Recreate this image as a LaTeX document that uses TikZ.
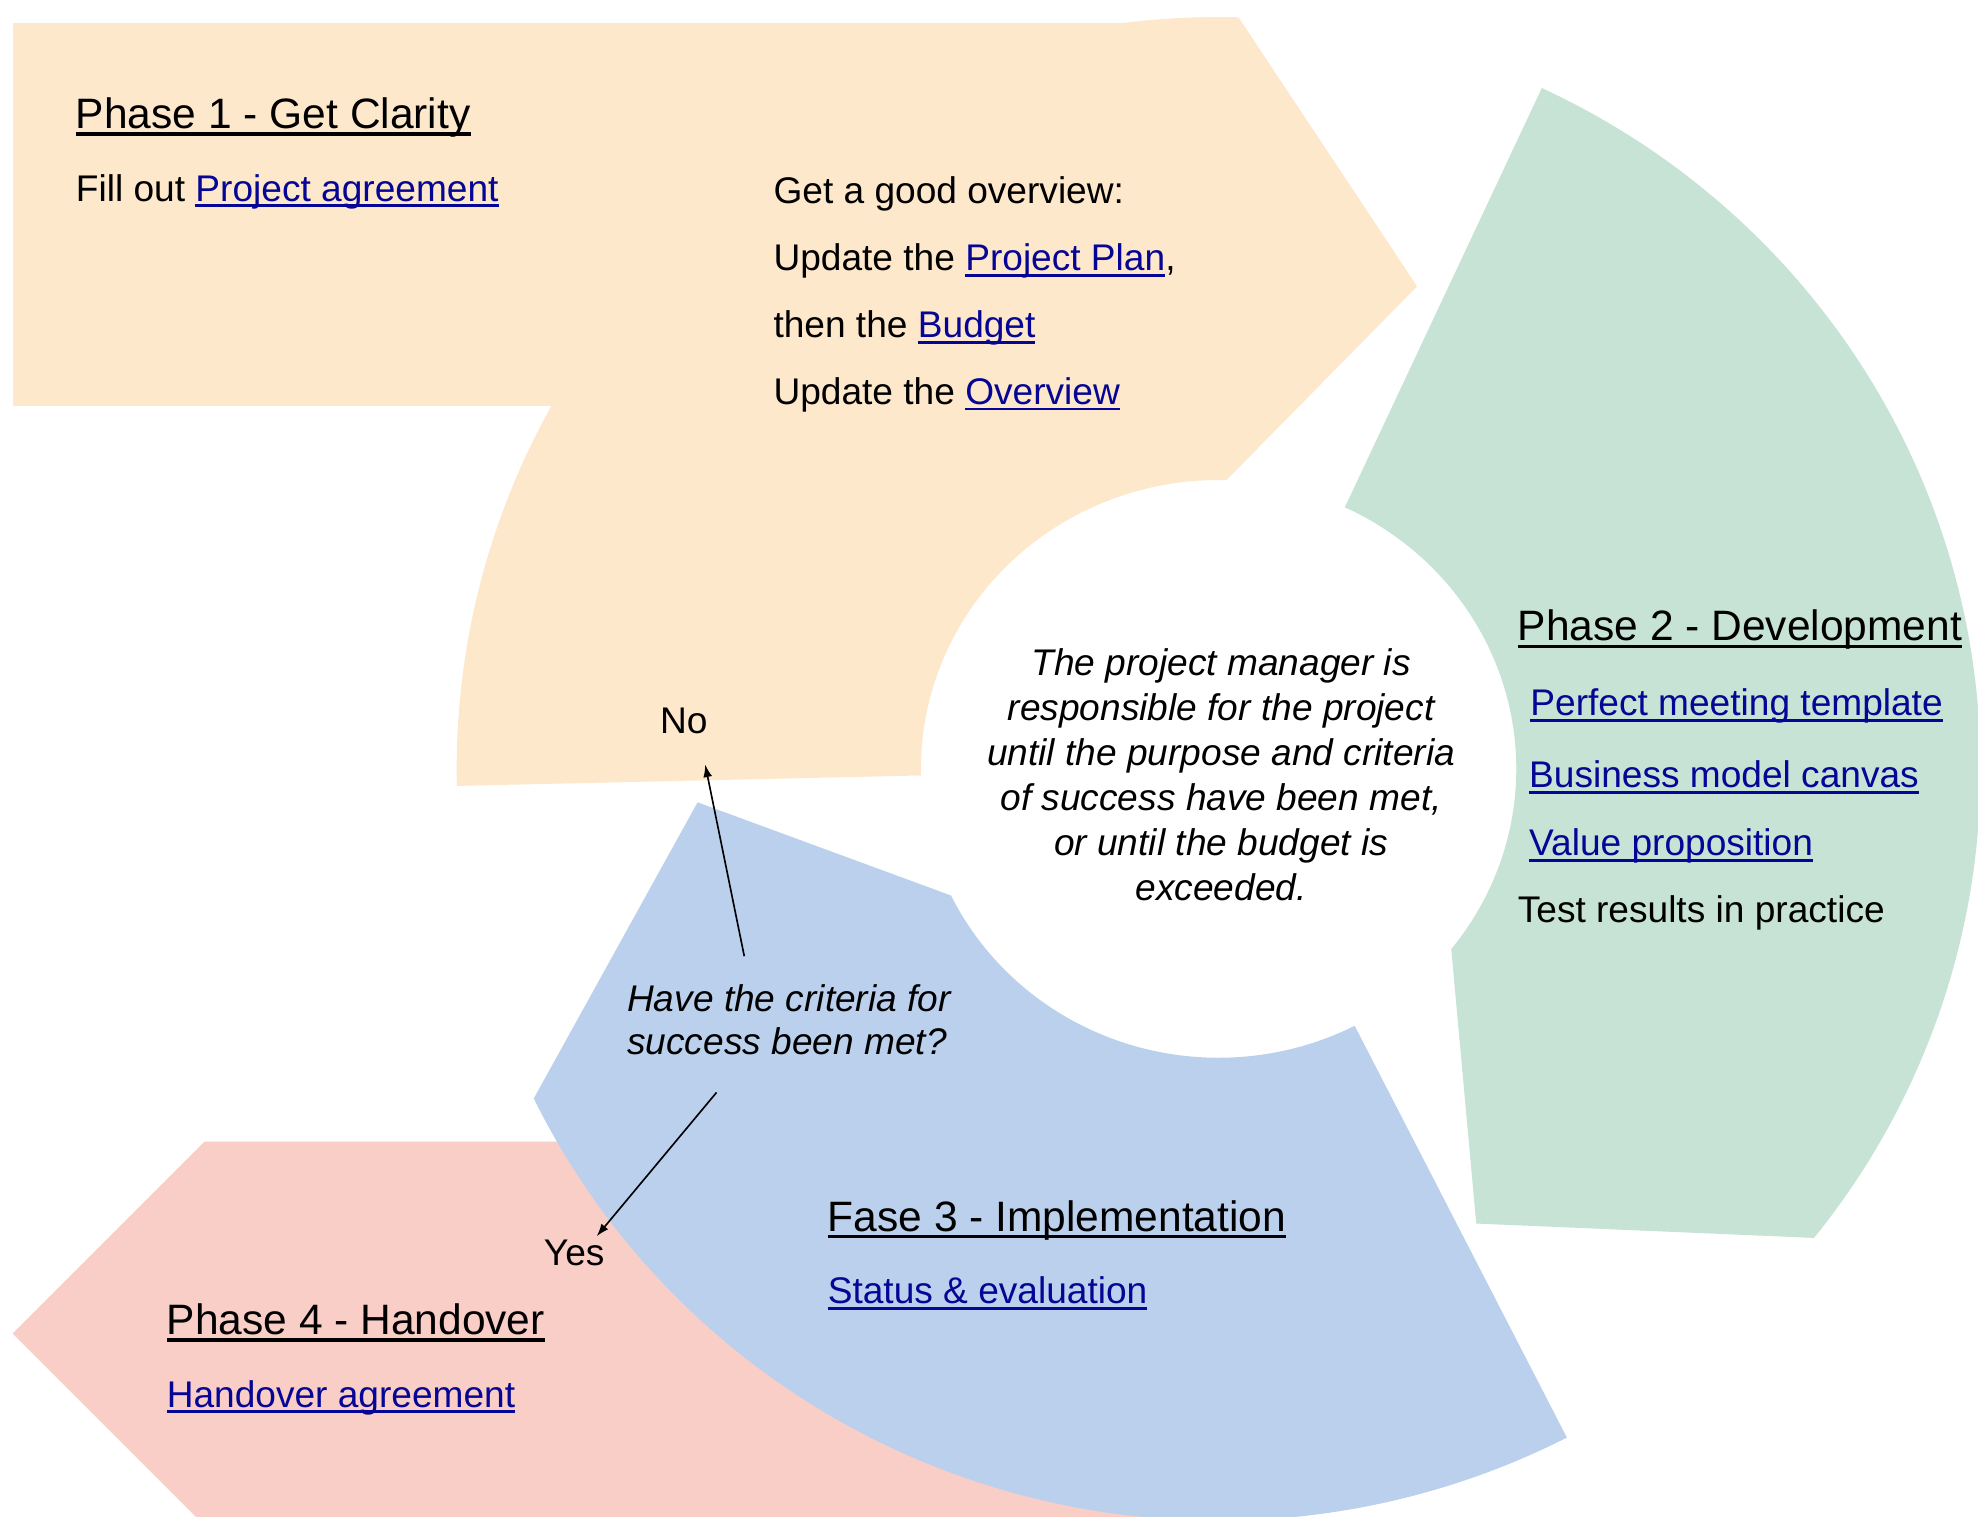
\documentclass[tikz,border=0pt]{standalone}
\usepackage{fontspec}
\setmainfont{Liberation Sans}
\usetikzlibrary{arrows.meta}
\definecolor{orangeF}{RGB}{254,232,203}
\definecolor{greenF}{RGB}{198,227,213}
\definecolor{blueF}{RGB}{186,208,236}
\definecolor{pinkF}{RGB}{249,206,199}
\definecolor{linkblue}{RGB}{5,5,150}
\newcommand{\ulx}[1]{\setbox0=\hbox{#1}\rlap{\rule[-0.165em]{\wd0}{0.078em}}\box0}
\newcommand{\lnk}[1]{{\color{linkblue}\ulx{#1}}}
\begin{document}
\begin{tikzpicture}[x=1pt,y=1pt,
  head/.style={anchor=base west, inner sep=0pt, font=\fontsize{33.7}{40}\selectfont},
  body/.style={anchor=base west, inner sep=0pt, font=\fontsize{29.4}{35}\selectfont},
  ital/.style={inner sep=0pt, font=\fontsize{29.4}{35.6}\selectfont\itshape},
  conn/.style={line width=1.3pt, -{Latex[length=10pt,width=7pt]}},
  outerarc/.style={x radius=604pt, y radius=596pt},
  innerarc/.style={x radius=236pt, y radius=229pt}]
\useasboundingbox (0,0) rectangle (1568,-1202);
\clip (0,0) rectangle (1568,-1202);
\fill[white] (0,0) rectangle (1568,-1202);
% Phase 4 (behind phase 3)
\fill[pinkF] (162,-905) -- (950,-905) -- (950,-1215) -- (168,-1215) -- (10,-1057) -- cycle;
\begin{scope}[shift={(966,-609.5)}]
  % Phase 3
  \fill[blueF] (297.2:604pt and 596pt) arc[start angle=297.2, end angle=206, outerarc]
     -- (-413pt,-26.5pt) -- (206:236pt and 229pt)
     arc[start angle=206, end angle=297.2, innerarc] -- cycle;
  % Phase 1
  \fill[orangeF] (181.3:604pt and 596pt) arc[start angle=181.3, end angle=88.5, outerarc]
     -- (68:420pt and 412.5pt) -- (88.5:236pt and 229pt)
     arc[start angle=88.5, end angle=181.3, innerarc] -- cycle;
  % Phase 2
  \fill[greenF] (64.9:604pt and 596pt) arc[start angle=64.9, end angle=-38.6, outerarc]
     -- (-60.9:420pt and 412.5pt) -- (-38.6:236pt and 229pt)
     arc[start angle=-38.6, end angle=64.9, innerarc] -- cycle;
\end{scope}
\fill[orangeF] (10,-18) rectangle (960,-322);

% Phase 1 texts
\node[head] (p1) at (60,-102) {\ulx{Phase 1 - Get Clarity}};
\node[body] (p1a) at (60,-159.5) {Fill out \lnk{Project agreement}};
\node[body] (p1b) at (613,-161.5) {Get a good overview:};
\node[body] (p1c) at (613,-214.5) {Update the \lnk{Project Plan},};
\node[body] (p1d) at (613,-267.5) {then the \lnk{Budget}};
\node[body] (p1e) at (613,-320.5) {Update the \lnk{Overview}};
% Phase 2 texts
\node[head] (p2) at (1203,-508) {\ulx{Phase 2 - Development}};
\node[body] (p2a) at (1213,-567.5) {\lnk{Perfect meeting template}};
\node[body] (p2b) at (1212,-624.5) {\lnk{Business model canvas}};
\node[body] (p2c) at (1212,-678.5) {\lnk{Value proposition}};
\node[body] (p2d) at (1203,-731.5) {Test results in practice};
% Phase 3 texts
\node[head] (p3) at (656,-976) {\ulx{Fase 3 - Implementation}};
\node[body] (p3a) at (656,-1033.5) {\lnk{Status \& evaluation}};
% Phase 4 texts
\node[head] (p4) at (132,-1058) {\ulx{Phase 4 - Handover}};
\node[body] (p4a) at (132,-1115.5) {\lnk{Handover agreement}};
% centre
\node[ital, align=center, anchor=north] (pm) at (968,-510.5)
  {\rule{0pt}{25pt}The project manager is\\responsible for the project\\until the purpose and criteria\\of success have been met,\\or until the budget is\\exceeded.};
% decision
\node[ital, font=\fontsize{29.4}{34}\selectfont\itshape, align=left, anchor=north west] (q) at (497,-776.5)
  {\rule{0pt}{25pt}Have the criteria for\\success been met?};
\node[body] (no) at (523,-581.5) {No};
\node[body] (yes) at (431,-1003.5) {Yes};
\coordinate (qno) at (590,-758);
\coordinate (notip) at (559,-606);
\coordinate (qyes) at (568,-866);
\coordinate (yestip) at (473,-980);
\draw[conn] (qno) -- (notip);
\draw[conn] (qyes) -- (yestip);
\end{tikzpicture}
\end{document}
